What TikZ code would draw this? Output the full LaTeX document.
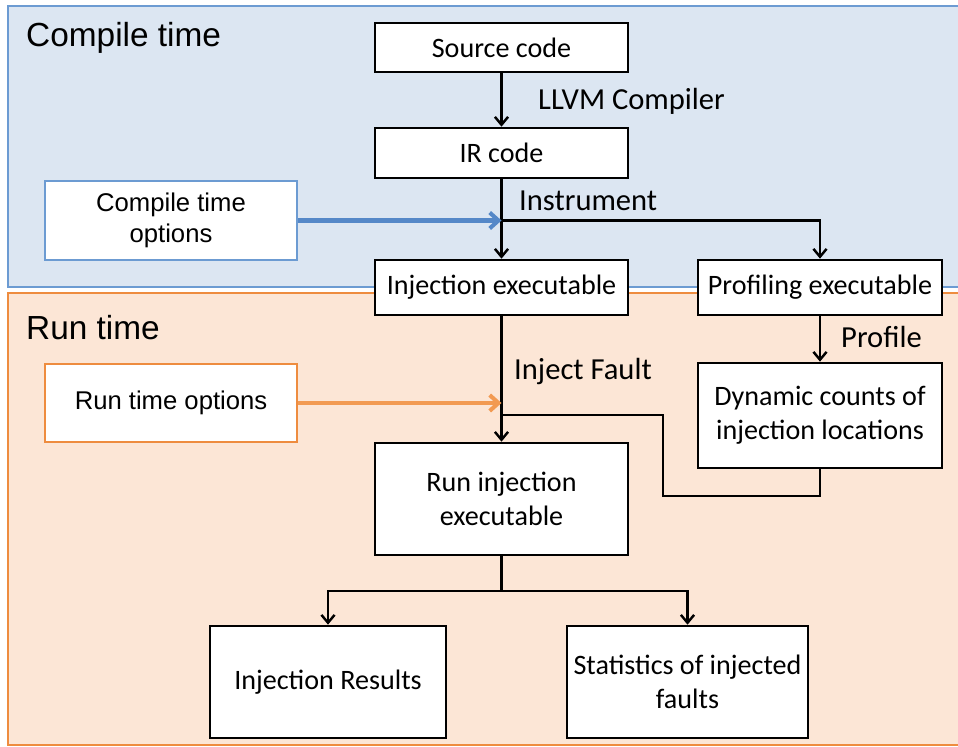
\documentclass[tikz,border=0pt]{standalone}
\usepackage{fontspec}
\setmainfont{Carlito}
\newfontfamily\arialfont{Liberation Sans}
\usetikzlibrary{arrows.meta}

\definecolor{ctfill}{HTML}{DCE6F2}
\definecolor{ctline}{HTML}{6C9BD2}
\definecolor{ctarrow}{HTML}{5588C8}
\definecolor{rtfill}{HTML}{FCE6D6}
\definecolor{rtline}{HTML}{EE8C3F}
\definecolor{rtarrow}{HTML}{F29A52}

\begin{document}
\begin{tikzpicture}[
                x = 0.02cm, y = -0.02cm, % one unit per pixel, y pointing down
                > = {Straight Barb[length=4.5pt, width=7.5pt]}, % arrow head style
                line width = 1.4pt, % line style
                font = \fontsize{16}{19.5}\selectfont
            ]

            \tikzstyle{box}=[
            draw = black,
            fill = white,
            align = center,
            inner sep = 2pt,
            line width = 1.5pt,
            minimum width = 5.06cm
            ]
            \tikzstyle{optbox}=[box, minimum width = 5.04cm, line width = 1.2pt,
            font = \arialfont\fontsize{14.6}{18}\selectfont]
            \tikzstyle{lbl}=[anchor = west, inner sep = 0pt, font = \fontsize{17.4}{20}\selectfont]
            \tikzstyle{stagelbl}=[lbl, font = \arialfont\fontsize{19}{23}\selectfont]
            \tikzstyle{optarrow}=[line width = 2.3pt, -{Straight Barb[length=5pt, width=9pt]}]

            \useasboundingbox (0,0) rectangle (958,747);

            % the two stages
            \draw[ctline, fill = ctfill, line width = 1.1pt] (8,6) rectangle (975,287);
            \draw[rtline, fill = rtfill, line width = 1.4pt] (8,293) rectangle (975,745);
            \node[stagelbl] (ctlabel) at (25,38) {Compile time};
            \node[stagelbl] (rtlabel) at (25,328) {Run time};

            \node[box, minimum height = 0.98cm] (src) at (501.5,47.5) {Source code};
            \node[box, minimum height = 1.0cm] (ir) at (501.5,153) {IR code};
            \node[box, minimum height = 1.1cm] (inj) at (501.5,287.5) {Injection executable};
            \node[box, minimum width = 4.88cm, minimum height = 1.1cm] (prof) at (820,287.5) {Profiling executable};
            \node[box, minimum width = 4.88cm, minimum height = 2.1cm] (dyn) at (820,415.5) {Dynamic counts of\\injection locations};
            \node[box, minimum height = 2.24cm] (run) at (501.5,499) {Run injection\\executable};
            \node[box, minimum width = 4.72cm, minimum height = 2.24cm] (res) at (328,682) {Injection Results};
            \node[box, minimum width = 4.82cm, minimum height = 2.24cm] (stat) at (687.5,682) {Statistics of injected\\faults};

            \node[optbox, draw = ctline, minimum height = 1.58cm] (ctopt) at (171,220.5) {Compile time\\options};
            \node[optbox, draw = rtline, minimum height = 1.56cm] (rtopt) at (171,403) {Run time options};

            \node[lbl] (llvm) at (537,101) {LLVM Compiler};
            \node[lbl] (instrlbl) at (518,201) {Instrument};
            \node[lbl] (faultlbl) at (513,372) {Inject Fault};
            \node[lbl] (proflbl) at (840,337) {Profile};

            \coordinate (instr) at (ir.south |- ctopt.east);
            \coordinate (fault) at (inj.south |- rtopt.east);
            \coordinate (merge) at (501.5,415);
            \coordinate (dynturn) at (663,496);
            \coordinate (split) at (501.5,591);

            \path[->] (src) edge (ir);
            \path[->] (ir) edge (inj);
            \draw[->] (instr) -| (prof);
            \draw[optarrow, ctarrow] (ctopt) -- (instr);
            \path[->] (inj) edge (run);
            \draw[optarrow, rtarrow] (rtopt) -- (fault);
            \path[->] (prof) edge (dyn);
            \draw (dyn.south) |- (dynturn) |- (merge);
            \draw (run) -- (split);
            \draw[->] (split) -| (res);
            \draw[->] (split) -| (stat);
        \end{tikzpicture}
\end{document}
